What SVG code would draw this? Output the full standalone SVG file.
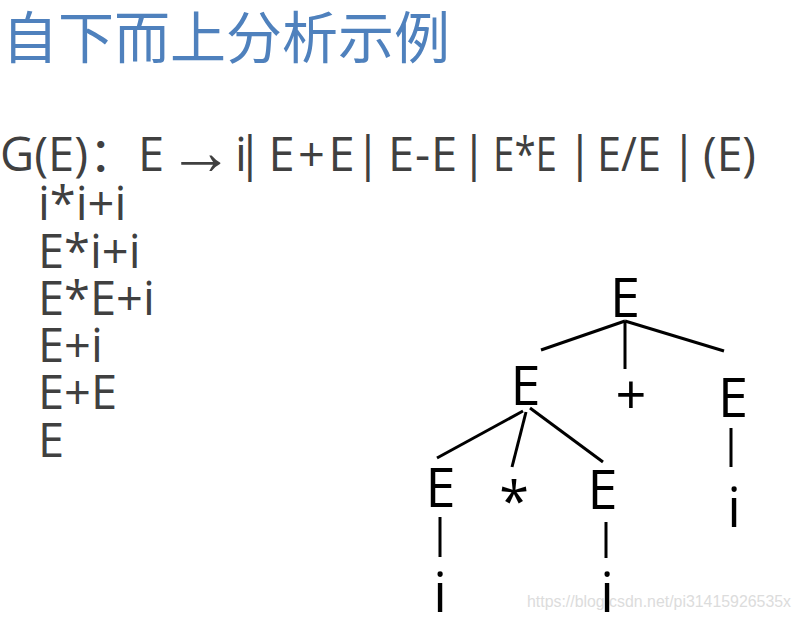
<svg xmlns="http://www.w3.org/2000/svg" width="801" height="620" viewBox="0 0 801 620">
<style>
.title{font-family:"Noto Sans CJK SC","Noto Sans",sans-serif;font-size:56px;fill:#4F81BD}
.g{font-family:"Open Sans","Noto Sans","Noto Sans CJK SC",sans-serif;font-size:47px;fill:#404040}
.arr{font-family:"Liberation Serif","DejaVu Serif",serif;font-size:66px;fill:#404040}
.t{font-family:"Open Sans","Noto Sans",sans-serif;font-size:54px;fill:#000;text-anchor:middle}
.wm{font-family:"Liberation Sans",Arial,sans-serif;font-size:17px;fill:#dcdcdc}
.edge{stroke:#000;stroke-width:3;stroke-linecap:butt;fill:none}
</style>
<rect width="801" height="620" fill="#fff"/>
<text class="title" x="2" y="58">自下而上分析示例</text>
<g id="grammar">
<text class="g" x="0" y="171">G(E)</text>
<text class="g" x="89" y="171">：</text>
<text class="g" x="138" y="171">E</text>
<text class="arr" x="201" y="174" text-anchor="middle">→</text>
<text class="g" x="235 237" y="171">i|</text>
<text class="g" x="268.5" y="171" textLength="86" lengthAdjust="spacing">E+E</text>
<text class="g" x="355" y="171">|</text>
<text class="g" x="388" y="171" textLength="69" lengthAdjust="spacing">E-E</text>
<text class="g" x="461" y="171">|</text>
<text class="g" x="493" y="171" textLength="64" lengthAdjust="spacingAndGlyphs">E*E</text>
<text class="g" x="567" y="171">|</text>
<text class="g" x="597" y="171" textLength="64" lengthAdjust="spacingAndGlyphs">E/E</text>
<text class="g" x="671" y="171">|</text>
<text class="g" x="703" y="171" textLength="53" lengthAdjust="spacingAndGlyphs">(E)</text>
</g>
<g id="steps">
<text class="g" x="38" y="220">i*i+i</text>
<text class="g" x="38" y="268">E*i+i</text>
<text class="g" x="38" y="315">E*E+i</text>
<text class="g" x="38" y="362">E+i</text>
<text class="g" x="38" y="409">E+E</text>
<text class="g" x="38" y="457">E</text>
</g>
<text class="wm" x="527" y="607" textLength="264" lengthAdjust="spacingAndGlyphs">https://blog.csdn.net/pi31415926535x</text>
<g id="connectors">
<line class="edge" x1="625" y1="321" x2="541" y2="350"/>
<line class="edge" x1="625" y1="321" x2="625" y2="369"/>
<line class="edge" x1="625" y1="321" x2="724" y2="351"/>
<line class="edge" x1="523" y1="411" x2="437" y2="458"/>
<line class="edge" x1="526" y1="412" x2="512" y2="467"/>
<line class="edge" x1="530" y1="408" x2="603" y2="462"/>
<line class="edge" x1="440" y1="517" x2="440" y2="557"/>
<line class="edge" x1="606" y1="522" x2="606" y2="558"/>
<line class="edge" x1="731" y1="428" x2="731" y2="467"/>
</g>
<g id="root"><text class="t" x="625" y="317">E</text></g>
<g id="e-left"><text class="t" x="525.5" y="405">E</text></g>
<g id="plus"><text class="t" x="631" y="414">+</text></g>
<g id="e-right"><text class="t" x="733" y="417">E</text></g>
<g id="e-ll"><text class="t" x="440.5" y="507">E</text></g>
<g id="star"><text class="t" x="514" y="521">*</text></g>
<g id="e-lr"><text class="t" x="602.5" y="509">E</text></g>
<g id="i-ll"><text class="t" x="440" y="612">i</text></g>
<g id="i-lr"><text class="t" x="607" y="612">i</text></g>
<g id="i-r"><text class="t" x="734" y="527">i</text></g>
</svg>
